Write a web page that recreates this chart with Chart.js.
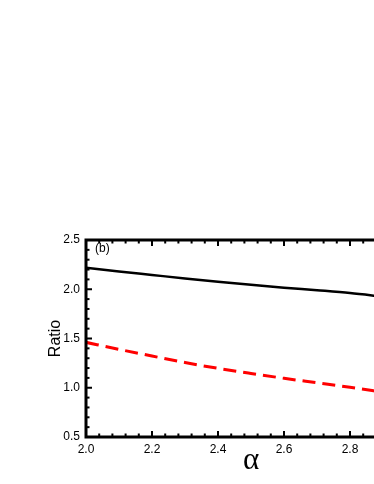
<!DOCTYPE html>
<html><head><meta charset="utf-8">
<script src="https://cdn.jsdelivr.net/npm/chart.js@4/dist/chart.umd.min.js"></script>
<style>
html,body{margin:0;padding:0;overflow:hidden;background:#fff;width:374px;height:484px;}
#wrap{position:absolute;left:0;top:0;width:460px;height:484px;}
</style></head>
<body>
<div id="wrap"><canvas id="c" width="460" height="484"></canvas></div>
<script>
const alphaValues = [2.0, 2.1, 2.2, 2.3, 2.4, 2.5, 2.6, 2.7, 2.8, 2.9];
const ratioSolid  = [2.219, 2.18, 2.145, 2.11, 2.077, 2.045, 2.016, 1.99, 1.962, 1.925];
const ratioDashed = [1.461, 1.39, 1.322, 1.256, 1.197, 1.145, 1.096, 1.05, 1.004, 0.955];
const xTicks = [2.0, 2.2, 2.4, 2.6, 2.8, 3.0];
const yTicks = [0.5, 1.0, 1.5, 2.0, 2.5];
const panelLabel = '(b)';
const xTitle = 'α';
const yTitle = 'Ratio';

const pts = (ys) => alphaValues.map((x, i) => ({x, y: ys[i]}));

const framePlugin = {
  id: 'frame',
  afterDraw(chart) {
    const {ctx, chartArea: a, scales: {x, y}} = chart;
    ctx.save();
    ctx.strokeStyle = '#000';
    ctx.lineWidth = 2;
    for (let i = 0; i <= 25; i++) {
      const v = 2.0 + i * 0.04;
      const px = x.getPixelForValue(v);
      const len = (i % 5 === 0) ? 6 : 3.5;
      ctx.beginPath();
      ctx.moveTo(px, a.bottom); ctx.lineTo(px, a.bottom - len);
      ctx.moveTo(px, a.top); ctx.lineTo(px, a.top + len);
      ctx.stroke();
    }
    for (let i = 0; i <= 20; i++) {
      const v = 0.5 + i * 0.1;
      const py = y.getPixelForValue(v);
      const len = (i % 5 === 0) ? 6 : 3.5;
      ctx.beginPath();
      ctx.moveTo(a.left, py); ctx.lineTo(a.left + len, py);
      ctx.stroke();
    }
    ctx.lineWidth = 3;
    ctx.beginPath();
    ctx.moveTo(a.right + 10, a.top); ctx.lineTo(a.left, a.top);
    ctx.lineTo(a.left, a.bottom); ctx.lineTo(a.right + 10, a.bottom);
    ctx.stroke();
    ctx.fillStyle = '#000';
    ctx.font = '12px "Liberation Sans", Arial, sans-serif';
    ctx.textAlign = 'left';
    ctx.textBaseline = 'middle';
    ctx.fillText(panelLabel, a.left + 9, a.top + 9);
    ctx.restore();
  }
};

new Chart(document.getElementById('c'), {
  type: 'line',
  data: {
    datasets: [
      {data: pts(ratioSolid), borderColor: '#000', borderWidth: 2.5, pointRadius: 0, fill: false, cubicInterpolationMode: 'monotone'},
      {data: pts(ratioDashed), borderColor: '#ff0000', borderWidth: 3, borderDash: [13, 7], pointRadius: 0, fill: false, cubicInterpolationMode: 'monotone'}
    ]
  },
  options: {
    responsive: false,
    animation: false,
    layout: {padding: {top: 240, right: 44, left: 0, bottom: 0}},
    plugins: {legend: {display: false}, tooltip: {enabled: false}},
    scales: {
      x: {
        type: 'linear', min: 2.0, max: 3.0,
        grid: {display: false, drawTicks: false},
        border: {display: false},
        afterBuildTicks: (s) => { s.ticks = xTicks.map(v => ({value: v})); },
        afterFit: (s) => { s.height = 47; },
        ticks: {padding: 5, color: '#000', maxRotation: 0, autoSkip: false,
          font: {family: '"Liberation Sans", Arial, sans-serif', size: 12},
          callback: (v) => Number(v).toFixed(1)},
        title: {display: true, text: xTitle, color: '#000', padding: {top: 0, bottom: 5},
          font: {family: '"Liberation Serif", "Times New Roman", serif', size: 31}}
      },
      y: {
        type: 'linear', min: 0.5, max: 2.5,
        grid: {display: false, drawTicks: false},
        border: {display: false},
        afterBuildTicks: (s) => { s.ticks = yTicks.map(v => ({value: v})); },
        afterFit: (s) => { s.width = 86; },
        ticks: {padding: 6, color: '#000', autoSkip: false,
          font: {family: '"Liberation Sans", Arial, sans-serif', size: 12},
          callback: (v) => Number(v).toFixed(1)},
        title: {display: true, text: yTitle, color: '#000', padding: {top: 46, bottom: 0},
          font: {family: '"Liberation Sans", Arial, sans-serif', size: 16}}
      }
    }
  },
  plugins: [framePlugin]
});
</script>
</body></html>
